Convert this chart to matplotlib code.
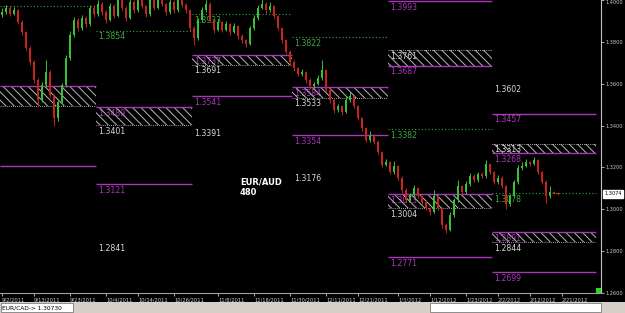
import matplotlib.pyplot as plt
from matplotlib.patches import Rectangle

# candle data (one bar per slot, oldest first)
closes = [1.3943, 1.3962, 1.3933, 1.3952, 1.3895, 1.3847, 1.3771, 1.3704, 1.3618, 1.3522,
          1.3594, 1.3656, 1.3546, 1.3436, 1.3513, 1.3594, 1.3723, 1.3833, 1.3904, 1.3866,
          1.3914, 1.3885, 1.3962, 1.3933, 1.3981, 1.3943, 1.3904, 1.3971, 1.3924, 1.4019,
          1.3962, 1.3914, 1.3990, 1.3952, 1.4010, 1.3971, 1.3933, 1.4000, 1.3962, 1.4024,
          1.3981, 1.3943, 1.3990, 1.3952, 1.4014, 1.3976, 1.3952, 1.3866, 1.3818, 1.3904,
          1.3952, 1.3981, 1.3904, 1.3857, 1.3895, 1.3857, 1.3885, 1.3847, 1.3876, 1.3828,
          1.3809, 1.3790, 1.3866, 1.3914, 1.3962, 1.3981, 1.3952, 1.3971, 1.3924, 1.3866,
          1.3809, 1.3752, 1.3704, 1.3675, 1.3646, 1.3656, 1.3618, 1.3589, 1.3599, 1.3627,
          1.3666, 1.3570, 1.3522, 1.3474, 1.3494, 1.3465, 1.3522, 1.3541, 1.3494, 1.3436,
          1.3388, 1.3331, 1.3350, 1.3322, 1.3274, 1.3212, 1.3226, 1.3178, 1.3207, 1.3150,
          1.3092, 1.3044, 1.3068, 1.3102, 1.3064, 1.3035, 1.3006, 1.2987, 1.3064, 1.3006,
          1.2925, 1.2901, 1.2973, 1.3044, 1.3111, 1.3083, 1.3121, 1.3159, 1.3140, 1.3169,
          1.3159, 1.3216, 1.3178, 1.3130, 1.3150, 1.3111, 1.3025, 1.3064, 1.3130, 1.3197,
          1.3207, 1.3226, 1.3216, 1.3236, 1.3178, 1.3130, 1.3064, 1.3083, 1.3078, 1.3074]
highs = [1.3960, 1.3975, 1.3970, 1.3968, 1.3958, 1.3905, 1.3852, 1.3780, 1.3712, 1.3625,
         1.3610, 1.3713, 1.3665, 1.3550, 1.3525, 1.3605, 1.3735, 1.3850, 1.3920, 1.3912,
         1.3930, 1.3925, 1.3978, 1.3975, 1.4000, 1.3990, 1.3950, 1.3985, 1.3980, 1.4035,
         1.4025, 1.3970, 1.4005, 1.3998, 1.4030, 1.4018, 1.3978, 1.4015, 1.4008, 1.4040,
         1.4030, 1.3988, 1.4005, 1.3998, 1.4030, 1.4020, 1.3985, 1.3958, 1.3875, 1.3915,
         1.3965, 1.4000, 1.3990, 1.3910, 1.3910, 1.3902, 1.3900, 1.3892, 1.3890, 1.3882,
         1.3838, 1.3815, 1.3878, 1.3928, 1.3978, 1.4005, 1.3990, 1.3990, 1.3978, 1.3930,
         1.3872, 1.3815, 1.3760, 1.3712, 1.3682, 1.3668, 1.3662, 1.3625, 1.3610, 1.3640,
         1.3715, 1.3672, 1.3578, 1.3530, 1.3505, 1.3500, 1.3535, 1.3560, 1.3548, 1.3500,
         1.3442, 1.3395, 1.3375, 1.3358, 1.3330, 1.3280, 1.3240, 1.3232, 1.3232, 1.3212,
         1.3158, 1.3100, 1.3080, 1.3115, 1.3108, 1.3070, 1.3042, 1.3012, 1.3092, 1.3070,
         1.3012, 1.2935, 1.2985, 1.3055, 1.3140, 1.3118, 1.3135, 1.3172, 1.3168, 1.3180,
         1.3178, 1.3236, 1.3222, 1.3185, 1.3165, 1.3158, 1.3118, 1.3075, 1.3142, 1.3210,
         1.3225, 1.3240, 1.3232, 1.3250, 1.3242, 1.3185, 1.3138, 1.3110, 1.3088, 1.3082]
lows = [1.3920, 1.3935, 1.3925, 1.3928, 1.3885, 1.3835, 1.3760, 1.3690, 1.3605, 1.3488,
        1.3515, 1.3585, 1.3535, 1.3397, 1.3420, 1.3505, 1.3585, 1.3715, 1.3825, 1.3850,
        1.3858, 1.3870, 1.3878, 1.3920, 1.3925, 1.3930, 1.3890, 1.3898, 1.3912, 1.3918,
        1.3950, 1.3900, 1.3908, 1.3940, 1.3945, 1.3960, 1.3920, 1.3925, 1.3950, 1.3955,
        1.3970, 1.3930, 1.3935, 1.3940, 1.3945, 1.3965, 1.3940, 1.3850, 1.3785, 1.3810,
        1.3895, 1.3945, 1.3895, 1.3840, 1.3850, 1.3845, 1.3850, 1.3835, 1.3840, 1.3815,
        1.3795, 1.3775, 1.3785, 1.3858, 1.3905, 1.3955, 1.3940, 1.3945, 1.3912, 1.3855,
        1.3795, 1.3740, 1.3690, 1.3662, 1.3635, 1.3638, 1.3605, 1.3575, 1.3580, 1.3592,
        1.3620, 1.3560, 1.3510, 1.3460, 1.3465, 1.3450, 1.3458, 1.3515, 1.3485, 1.3425,
        1.3375, 1.3320, 1.3322, 1.3310, 1.3262, 1.3200, 1.3205, 1.3168, 1.3170, 1.3138,
        1.3080, 1.3032, 1.3035, 1.3060, 1.3055, 1.3025, 1.2995, 1.2975, 1.2980, 1.2995,
        1.2912, 1.2885, 1.2895, 1.2965, 1.3035, 1.3075, 1.3075, 1.3112, 1.3130, 1.3132,
        1.3148, 1.3150, 1.3168, 1.3120, 1.3122, 1.3100, 1.3000, 1.3015, 1.3058, 1.3122,
        1.3190, 1.3200, 1.3205, 1.3210, 1.3168, 1.3120, 1.3030, 1.3055, 1.3072, 1.3070]
first_open = 1.3930
opens = [first_open] + closes[:-1]
last_price = 1.3074

date_pos = [0, 8, 17, 26, 34, 43, 54, 63, 72, 81, 89, 99, 107, 116, 124, 132, 140]
date_labels = ['9/2/2011', '9/13/2011', '9/23/2011', '10/4/2011', '10/14/2011',
               '10/26/2011', '11/8/2011', '11/18/2011', '11/30/2011', '12/11/2011',
               '12/21/2011', '1/3/2012', '1/12/2012', '1/23/2012', '2/2/2012',
               '2/12/2012', '2/21/2012']

# pivot periods (bar index where each period starts / ends)
period_bounds = [0, 24, 48, 73, 97, 123, 149]

# (period, level)
green_levels = [(0, 1.3971), (1, 1.3854), (2, 1.3933), (3, 1.3822), (4, 1.3382), (5, 1.3078)]
magenta_levels = [(0, 1.3589), (0, 1.3207), (1, 1.3489), (1, 1.3121), (2, 1.3737), (2, 1.3541),
                  (3, 1.3584), (3, 1.3354), (4, 1.3993), (4, 1.3687), (4, 1.3073), (4, 1.2771),
                  (5, 1.3457), (5, 1.3268), (5, 1.2891), (5, 1.2699)]
white_levels = [(0, 1.3494), (1, 1.3401), (1, 1.2841), (2, 1.3691), (2, 1.3391), (3, 1.3533),
                (3, 1.3176), (4, 1.3761), (4, 1.3004), (5, 1.3602), (5, 1.3313), (5, 1.2844)]
# zones drawn hatched: (period, low, high)
zones = [(0, 1.3494, 1.3589), (1, 1.3401, 1.3489), (2, 1.3691, 1.3737), (3, 1.3533, 1.3584),
         (4, 1.3687, 1.3761), (4, 1.3004, 1.3073), (5, 1.3268, 1.3313), (5, 1.2844, 1.2891)]

GREEN = '#3fa83f'
MAGENTA = '#a838b8'
WHITE = '#d8d8d8'


def level_label(ax, period, value, color):
    if period == 0:
        return
    ax.annotate(f'{value:.4f}', (period_bounds[period] - 0.5, value),
                xytext=(1.5, -1.2), textcoords='offset points',
                ha='left', va='top', fontsize=5.6, color=color, zorder=2)


def main():
    plt.rcParams['hatch.linewidth'] = 0.7
    fig = plt.figure(figsize=(6.25, 3.13), dpi=100, facecolor='black')
    ax = fig.add_axes([0, 20 / 313, 601 / 625, 293 / 313])
    ax.set_facecolor('black')

    in_zone = set()
    for p, lo, hi in zones:
        x0, x1 = period_bounds[p] - 0.5, period_bounds[p + 1] - 0.5
        ax.fill_between([x0, x1], lo, hi, facecolor='none', edgecolor='#b8b8b8',
                        linewidth=0, hatch='\\\\\\\\', zorder=3)
        in_zone.add((p, lo))
        in_zone.add((p, hi))

    for p, v in green_levels:
        ax.hlines(v, period_bounds[p] - 0.5, period_bounds[p + 1] - 0.5, colors=GREEN,
                  linestyles=(0, (1, 2)), linewidth=0.8, zorder=2)
        level_label(ax, p, v, GREEN)
    for p, v in magenta_levels:
        ax.hlines(v, period_bounds[p] - 0.5, period_bounds[p + 1] - 0.5, colors=MAGENTA,
                  linewidth=1.0, zorder=4)
        level_label(ax, p, v, MAGENTA)
    for p, v in white_levels:
        if (p, v) in in_zone:
            ax.hlines(v, period_bounds[p] - 0.5, period_bounds[p + 1] - 0.5, colors=WHITE,
                      linestyles=(0, (1, 1.5)), linewidth=0.6, zorder=4)
        level_label(ax, p, v, WHITE)

    # candles
    idx = list(range(len(closes)))
    colors = ['#35c235' if c >= o else '#c8231e' for o, c in zip(opens, closes)]
    ax.vlines(idx, lows, highs, colors=colors, linewidth=0.7, zorder=5)
    bottoms = [min(o, c) for o, c in zip(opens, closes)]
    heights = [max(abs(c - o), 0.0002) for o, c in zip(opens, closes)]
    ax.bar(idx, heights, bottom=bottoms, width=0.7, color=colors, linewidth=0, zorder=6)

    ax.set_xlim(-0.5, 149.75)
    ax.set_ylim(1.26, 1.40)

    # right price axis
    ax.yaxis.tick_right()
    ax.set_yticks([1.26, 1.28, 1.30, 1.32, 1.34, 1.36, 1.38, 1.40])
    ax.set_yticklabels(['1.2600', '1.2800', '1.3000', '1.3200', '1.3400', '1.3600',
                        '1.3800', '1.4000'])
    ax.tick_params(axis='y', colors='#c8c8c8', labelsize=3.6, length=2, width=0.6, pad=1.5)
    ax.get_yticklabels()[-1].set_va('top')

    ax.set_xticks(date_pos)
    ax.set_xticklabels(date_labels)
    ax.tick_params(axis='x', colors='#d0d0d0', labelsize=3.7, length=2, width=0.6, pad=1)
    for lbl in ax.get_xticklabels():
        lbl.set_ha('left')

    for side in ['left', 'top']:
        ax.spines[side].set_visible(False)
    ax.spines['right'].set_color('#c0c0c0')
    ax.spines['bottom'].set_color('#a0a0a0')
    ax.spines['right'].set_linewidth(0.8)
    ax.spines['bottom'].set_linewidth(0.8)

    # last price tag
    ax.annotate(f'{last_price:.4f}', (1.0, last_price), xycoords=('axes fraction', 'data'),
                xytext=(2.5, 0), textcoords='offset points', ha='left', va='center',
                fontsize=3.6, color='black',
                bbox=dict(boxstyle='square,pad=0.25', facecolor='white', edgecolor='white'),
                annotation_clip=False)

    fig.text(240 / 625, 1 - 178 / 313, 'EUR/AUD\n480', color='white', fontsize=6,
             fontweight='bold', ha='left', va='top', linespacing=1.1)

    # status bar
    fig.add_artist(Rectangle((0, 0), 1, 11 / 313, transform=fig.transFigure,
                             facecolor='#d4d0c8', edgecolor='none'))
    fig.add_artist(Rectangle((0.5 / 625, 1 / 313), 72 / 625, 9 / 313, transform=fig.transFigure,
                             facecolor='white', edgecolor='#808080', linewidth=0.6))
    fig.add_artist(Rectangle((430 / 625, 1 / 313), 171 / 625, 9 / 313, transform=fig.transFigure,
                             facecolor='white', edgecolor='#808080', linewidth=0.6))
    fig.text(2 / 625, 5.5 / 313, 'EUR/CAD-> 1.30730', fontsize=4.2, color='black',
             va='center', ha='left')
    fig.add_artist(Rectangle((596 / 625, 20 / 313), 5 / 625, 5 / 313, transform=fig.transFigure,
                             facecolor='#22dd22', edgecolor='none'))

    fig.savefig('out.png', dpi=100, facecolor='black')


if __name__ == '__main__':
    main()
